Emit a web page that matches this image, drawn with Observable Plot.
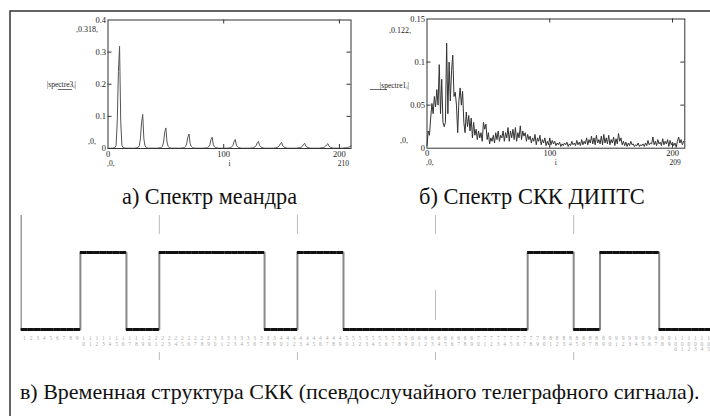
<!DOCTYPE html>
<html><head><meta charset="utf-8">
<script src="https://cdn.jsdelivr.net/npm/d3@7"></script>
<script src="https://cdn.jsdelivr.net/npm/@observablehq/plot@0.6"></script>
<style>
body{margin:0;background:#fff;}
#wrap{position:relative;width:710px;height:416px;overflow:hidden;background:#fff;}
#wrap > *{position:absolute;}
.cap{font-family:'Liberation Serif',serif;font-size:21px;line-height:1;color:#111;white-space:nowrap;}
</style></head><body><div id="wrap"></div>
<script>
// |spectre3_i| : spectrum of the meander (i = 0..210)
const spectre3 = [
0,.001,.001,.001,.001,.002,.003,.01,.085,.24,
.318,.085,.01,.003,.002,.001,.001,.001,.001,.001,
.001,.001,.001,.001,.002,.002,.003,.008,.03,.08,
.106,.03,.008,.003,.002,.001,.001,.001,.001,.001,
.001,.001,.001,.001,.002,.002,.003,.006,.02,.05,
.064,.02,.006,.003,.002,.001,.001,.001,.001,.001,
.001,.001,.001,.001,.002,.002,.003,.006,.015,.035,
.045,.015,.006,.003,.002,.001,.001,.001,.001,.001,
.001,.001,.001,.001,.002,.002,.003,.005,.012,.028,
.035,.012,.005,.003,.002,.001,.001,.001,.001,.001,
.001,.001,.001,.001,.002,.002,.003,.005,.01,.022,
.028,.01,.005,.003,.002,.001,.001,.001,.001,.001,
.001,.001,.001,.001,.002,.002,.003,.005,.009,.018,
.022,.009,.005,.003,.002,.001,.001,.001,.001,.001,
.001,.001,.001,.001,.002,.002,.003,.005,.008,.015,
.019,.008,.005,.003,.002,.001,.001,.001,.001,.001,
.001,.001,.001,.001,.002,.002,.003,.004,.007,.013,
.016,.007,.004,.003,.002,.001,.001,.001,.001,.001,
.001,.001,.001,.001,.002,.002,.003,.004,.007,.012,
.015,.007,.004,.003,.002,.001,.001,.001,.001,.001,
.001,.001,.001,.001,.002,.002,.003,.003,.004,.006,.008];

// |spectre1_i| : spectrum of the pseudo-random telegraph signal (i = 0..209)
const spectre1 = [
.003,.02,.015,.035,.052,.04,.06,.048,.068,.05,
.097,.04,.08,.03,.025,.03,.122,.04,.1,.055,
.09,.108,.06,.065,.05,.018,.055,.07,.05,.066,
.03,.018,.042,.025,.038,.02,.035,.012,.03,.015,
.022,.01,.02,.012,.018,.008,.03,.022,.028,.01,
.018,.005,.012,.008,.015,.006,.018,.01,.02,.008,
.015,.012,.02,.008,.018,.012,.024,.008,.02,.012,
.022,.01,.024,.008,.018,.012,.026,.01,.02,.014,
.018,.008,.016,.01,.014,.006,.012,.008,.016,.004,
.012,.008,.015,.004,.01,.006,.012,.003,.008,.004,
.012,.004,.009,.005,.008,.003,.006,.004,.007,.002,
.005,.003,.006,.004,.007,.002,.005,.003,.008,.004,
.006,.003,.009,.004,.007,.003,.01,.004,.008,.005,
.012,.004,.01,.006,.014,.005,.012,.004,.015,.006,
.01,.005,.014,.004,.016,.006,.012,.005,.015,.004,
.01,.006,.013,.003,.011,.005,.017,.008,.012,.004,
.008,.003,.007,.002,.006,.003,.008,.004,.005,.002,
.004,.003,.006,.002,.004,.003,.005,.002,.006,.003,
.009,.004,.006,.005,.013,.004,.008,.003,.01,.005,
.007,.003,.011,.004,.008,.005,.01,.002,.009,.004,
.007,.003,.006,.001,.008,.013,.006,.01,.004,.008];

const yTicks3 = [0, 0.1, 0.2, 0.3, 0.4];
const yTicks1 = [0, 0.05, 0.1, 0.15];
const xTicks = [0, 100, 200];
const innerY3 = [0.1, 0.2, 0.3];
const innerY1 = [0.05, 0.1];
const innerX = [100, 200];
const labels3 = {top: ",0.318,", name: "|spectre3ᵢ|", low: ",0,", first: ",0,", mid: "i", last: "210"};
const labels1 = {top: ",0.122,", name: "|spectre1ᵢ|", low: ",0,", first: ",0,", mid: "i", last: "209"};

// pseudo-random telegraph signal, one value per sample (105 samples)
const bits = [
0,0,0,0,0,0,0,0,0,
1,1,1,1,1,1,1,
0,0,0,0,0,
1,1,1,1,1,1,1,1,1,1,1,1,1,1,1,1,
0,0,0,0,0,
1,1,1,1,1,1,1,
0,0,0,0,0,0,0,0,0,0,0,0,0,0,0,0,0,0,0,0,0,0,0,0,0,0,0,0,
1,1,1,1,1,1,1,
0,0,0,0,
1,1,1,1,1,1,1,1,1,
0,0,0,0,0,0,0,0];
const gridSamples = [21, 42, 63, 84];
const markerSamples = [63];
const sampleLabels = bits.map((b, i) => String(i + 1));

const captions = ["а) Спектр меандра", "б) Спектр СКК ДИПТС",
  "в) Временная структура СКК (псевдослучайного телеграфного сигнала)."];

const FONT = "'Liberation Serif', serif";
const wrap = document.getElementById("wrap");

function spectrum({values, yDomain, yTicks, innerY, labels, left, width, mL, mR, mT, mB, stroke, fmt, offs}) {
  const height = 175;
  const fw = width - mL - mR, fh = height - mT - mB;
  const data = values.map((v, i) => ({i, v}));
  const p = Plot.plot({
    width, height, marginLeft: mL, marginRight: mR, marginTop: mT, marginBottom: mB,
    style: {fontFamily: FONT, fontSize: "8.5px", color: "#222", background: "transparent"},
    x: {domain: [0, 210], ticks: xTicks, tickSize: 0, tickPadding: 2, label: null},
    y: {domain: yDomain, ticks: yTicks, tickSize: 0, tickPadding: 2, label: null, tickFormat: fmt},
    marks: [
      Plot.line(data, {x: "i", y: "v", stroke, strokeWidth: 1}),
      Plot.frame({stroke: "#333"}),
      Plot.tickY(innerY, {y: d => d, insetRight: fw - 4, stroke: "#333"}),
      Plot.tickY(innerY, {y: d => d, insetLeft: fw - 4, stroke: "#333"}),
      Plot.tickX(innerX, {x: d => d, insetTop: fh - 4, stroke: "#333"}),
      Plot.tickX(innerX, {x: d => d, insetBottom: fh - 4, stroke: "#333"}),
      Plot.text([labels.top], {text: d => d, frameAnchor: "top-left", dx: offs.top[0], dy: offs.top[1], textAnchor: "end", fontSize: 8}),
      Plot.text([labels.name], {text: d => d, frameAnchor: "left", dx: offs.name[0], dy: offs.name[1], textAnchor: "end", fontSize: 7.5}),
      Plot.text([labels.low], {text: d => d, frameAnchor: "bottom-left", dx: offs.low[0], dy: -5, textAnchor: "end", fontSize: 8}),
      Plot.text([labels.first], {text: d => d, frameAnchor: "bottom-left", dx: -1, dy: 17, textAnchor: "start", fontSize: 7.5}),
      Plot.text([labels.mid], {text: d => d, frameAnchor: "bottom", dy: 17, fontSize: 7.5}),
      Plot.text([labels.last], {text: d => d, frameAnchor: "bottom-right", dx: offs.last, dy: 17, textAnchor: "end", fontSize: 7.5})
    ]
  });
  p.style.left = left + "px";
  p.style.top = "0px";
  return p;
}

wrap.appendChild(spectrum({values: spectre3, yDomain: [0, 0.4], yTicks: yTicks3, innerY: innerY3, labels: labels3,
  left: 0, width: 355, mL: 107.5, mR: 4.5, mT: 19.5, mB: 27, stroke: "#555",
  fmt: d => d === 0 ? "0" : d3.format(".1f")(d),
  offs: {top: [-10, 6], name: [-32, 0], low: [-12], last: -2}}));
wrap.appendChild(spectrum({values: spectre1, yDomain: [0, 0.15], yTicks: yTicks1, innerY: innerY1, labels: labels1,
  left: 355, width: 355, mL: 71.5, mR: 25.7, mT: 18.5, mB: 27.3, stroke: "#333",
  fmt: d => d === 0 ? "0" : String(d),
  offs: {top: [-16, 8], name: [-18, 2], low: [-19], last: -4}}));

// time structure
const steps = bits.map((b, i) => ({s: i, b}));
steps.push({s: bits.length, b: bits[bits.length - 1]});
const segs = bits.map((b, i) => ({s: i, b}));
const bottom = Plot.plot({
  width: 710, height: 175, marginLeft: 20.7, marginRight: 0, marginTop: 15, marginBottom: 46,
  style: {fontFamily: FONT, background: "transparent", overflow: "visible"},
  x: {domain: [0, 104.8], axis: null},
  y: {domain: [0, 1.48], axis: null},
  marks: [
    Plot.ruleX([0], {stroke: "#999", strokeWidth: 1.5}),
    Plot.ruleX(gridSamples, {insetBottom: 95, stroke: "#bbb"}),
    Plot.ruleX(gridSamples, {insetTop: 137, insetBottom: -31, stroke: "#bbb"}),
    Plot.ruleX(markerSamples, {insetTop: 75, insetBottom: 9, stroke: "#bbb"}),
    Plot.line(steps, {x: "s", y: "b", curve: "step-after", stroke: "#888", strokeWidth: 2}),
    Plot.ruleY(segs, {x1: "s", x2: d => d.s + 1, y: "b", stroke: "#111", strokeWidth: 3}),
    Plot.text(sampleLabels, {x: (d, i) => i + 0.5, text: d => d.split("").join("\n"), frameAnchor: "bottom", dy: 7, lineAnchor: "top", fontSize: 5.5, fill: "#aaa", lineHeight: 1})
  ]
});
bottom.style.left = "0px";
bottom.style.top = "200px";
wrap.appendChild(bottom);

// outer border and name underlines
const ns = "http://www.w3.org/2000/svg";
const ov = document.createElementNS(ns, "svg");
ov.setAttribute("width", 710); ov.setAttribute("height", 416);
ov.style.left = "0px"; ov.style.top = "0px"; ov.style.pointerEvents = "none";
const border = document.createElementNS(ns, "path");
border.setAttribute("d", "M10,416V11H710");
border.setAttribute("fill", "none"); border.setAttribute("stroke", "#333"); border.setAttribute("stroke-width", 1.5);
ov.appendChild(border);
[[58, 72], [370, 387]].forEach(([a, b]) => {
  const l = document.createElementNS(ns, "line");
  l.setAttribute("x1", a); l.setAttribute("x2", b); l.setAttribute("y1", 89.5); l.setAttribute("y2", 89.5);
  l.setAttribute("stroke", "#444"); l.setAttribute("stroke-width", 0.8);
  ov.appendChild(l);
});
wrap.appendChild(ov);

// captions: font size fitted so each caption spans the reference width
const capPos = [[122, 205, 175], [419, 205, 226], [20, 400, 680]];
captions.forEach((c, k) => {
  const d = document.createElement("div");
  d.className = "cap";
  d.textContent = c;
  wrap.appendChild(d);
  const w = d.getBoundingClientRect().width;
  const fs = 21 * capPos[k][2] / w;
  d.style.fontSize = fs.toFixed(2) + "px";
  d.style.left = capPos[k][0] + "px";
  d.style.top = (capPos[k][1] - fs * 0.86) + "px";
});
</script></body></html>
